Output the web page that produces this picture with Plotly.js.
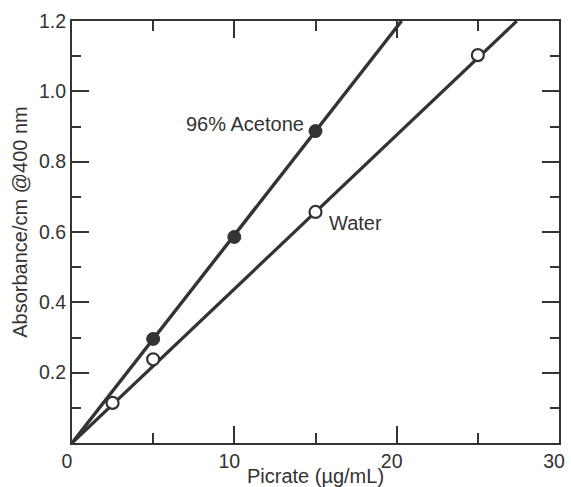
<!DOCTYPE html>
<html>
<head>
<meta charset="utf-8">
<script src="https://cdn.plot.ly/plotly-3.0.1.min.js"></script>
<style>html,body{margin:0;padding:0;background:#fff;}#chart{width:571px;height:487px;}</style>
</head>
<body>
<div id="chart"></div>
<script>
// Measured points
const acetoneX = [5, 10, 15];
const acetoneY = [0.296, 0.586, 0.887];
const waterX = [2.5, 5, 15, 25];
const waterY = [0.114, 0.238, 0.657, 1.103];
// Fitted straight lines (from origin, running to the top of the frame)
const acetoneFitX = [0, 20.3];
const acetoneFitY = [0, 1.2];
const waterFitX = [0, 27.4];
const waterFitY = [0, 1.2];
// Tick values/labels
const xTickVals = [0, 10, 20, 30];
const xTickText = ['0', '10', '20', '30'];
const xMinorVals = [5, 15, 25];
const yTickVals = [0.2, 0.4, 0.6, 0.8, 1.0, 1.2];
const yTickText = ['0.2', '0.4', '0.6', '0.8', '1.0', '1.2'];
const yMinorVals = [0.1, 0.3, 0.5, 0.7, 0.9, 1.1];

const ink = '#333333';
const font = {family: 'Liberation Sans, Arial, Helvetica, sans-serif', size: 20, color: ink};
const tickFont = {family: 'Liberation Sans, Arial, Helvetica, sans-serif', size: 19.5, color: ink};

const traces = [
  {x: acetoneFitX, y: acetoneFitY, mode: 'lines', line: {color: ink, width: 3.4}, hoverinfo: 'skip', showlegend: false},
  {x: waterFitX, y: waterFitY, mode: 'lines', line: {color: ink, width: 3.2}, hoverinfo: 'skip', showlegend: false},
  {x: acetoneX, y: acetoneY, mode: 'markers', marker: {size: 13, color: ink, line: {color: ink, width: 1}}, showlegend: false},
  {x: waterX, y: waterY, mode: 'markers', marker: {size: 12, color: '#ffffff', line: {color: ink, width: 2.2}}, showlegend: false}
];

const axisCommon = {
  showgrid: false, zeroline: false, showline: true, linecolor: ink, linewidth: 2,
  mirror: 'ticks', ticks: 'inside', ticklen: 17, tickwidth: 2, tickcolor: ink,
  tickfont: tickFont
};

const layout = {
  width: 571, height: 487,
  margin: {l: 72, r: 12, t: 21, b: 44},
  paper_bgcolor: '#ffffff', plot_bgcolor: '#ffffff',
  font: font,
  xaxis: Object.assign({}, axisCommon, {
    range: [0, 30], tickmode: 'array', tickvals: xTickVals, ticktext: xTickText,
    ticklabelshift: -5,
    minor: {tickmode: 'array', tickvals: xMinorVals, ticks: 'inside', ticklen: 10, tickwidth: 2, tickcolor: ink},
    title: {text: 'Picrate (\u00b5g/mL)', font: font, standoff: 0}
  }),
  yaxis: Object.assign({}, axisCommon, {
    range: [0, 1.2], tickmode: 'array', tickvals: yTickVals, ticktext: yTickText,
    minor: {tickmode: 'array', tickvals: yMinorVals, ticks: 'inside', ticklen: 9, tickwidth: 2, tickcolor: ink}
  }),
  annotations: [
    {x: 10.66, y: 0.907, xref: 'x', yref: 'y', text: '96% Acetone', showarrow: false, font: font},
    {x: 17.44, y: 0.626, xref: 'x', yref: 'y', text: 'Water', showarrow: false, font: font},
    {x: -0.107, y: 0.524, xref: 'paper', yref: 'paper', text: 'Absorbance/cm @400 nm', textangle: -90,
     showarrow: false, font: font, xanchor: 'center', yanchor: 'middle'}
  ]
};

Plotly.newPlot('chart', traces, layout, {displayModeBar: false, staticPlot: true});
</script>
</body>
</html>
